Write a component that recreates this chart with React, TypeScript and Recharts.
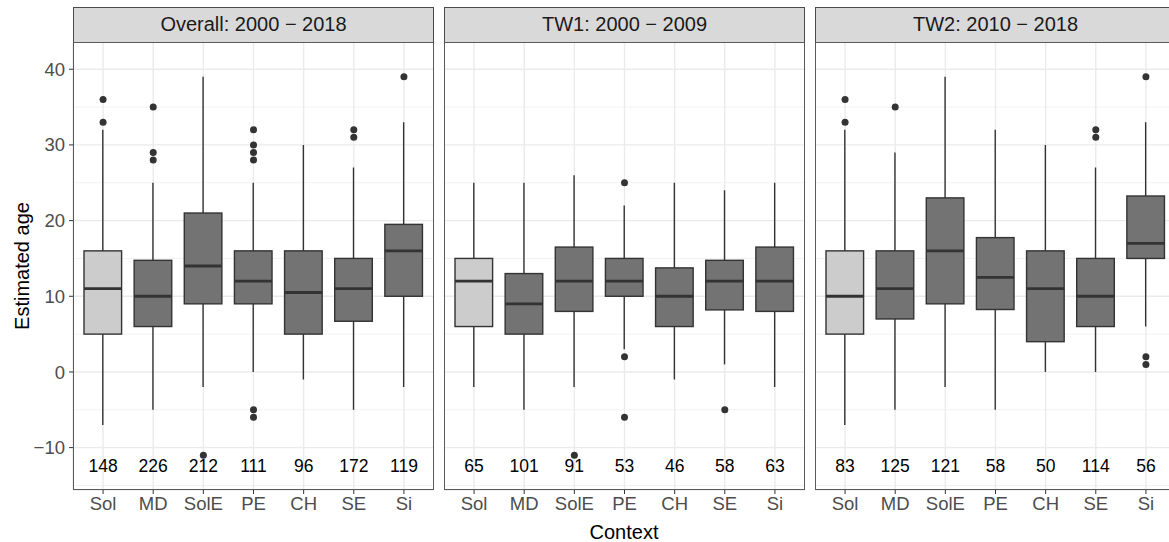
import { ComposedChart, Bar, Scatter, XAxis, YAxis, CartesianGrid } from "recharts";

const contexts = ["Sol", "MD", "SolE", "PE", "CH", "SE", "Si"];

// Overall: 2000 - 2018
const overallLow = [-7, -5, -2, 0, -1, -5, -2];
const overallQ1 = [5, 6, 9, 9, 5, 6.7, 10];
const overallMed = [11, 10, 14, 12, 10.5, 11, 16];
const overallQ3 = [16, 14.75, 21, 16, 16, 15, 19.5];
const overallHigh = [32, 25, 39, 25, 30, 27, 33];
const overallOut = [[36, 33], [35, 29, 28], [-11], [32, 30, 29, 28, -5, -6], [], [32, 31], [39]];
const overallN = [148, 226, 212, 111, 96, 172, 119];

// TW1: 2000 - 2009
const tw1Low = [-2, -5, -2, 3, -1, 1, -2];
const tw1Q1 = [6, 5, 8, 10, 6, 8.2, 8];
const tw1Med = [12, 9, 12, 12, 10, 12, 12];
const tw1Q3 = [15, 13, 16.5, 15, 13.75, 14.75, 16.5];
const tw1High = [25, 25, 26, 22, 25, 24, 25];
const tw1Out = [[], [], [-11], [25, 2, -6], [], [-5], []];
const tw1N = [65, 101, 91, 53, 46, 58, 63];

// TW2: 2010 - 2018
const tw2Low = [-7, -5, -2, -5, 0, 0, 6];
const tw2Q1 = [5, 7, 9, 8.25, 4, 6, 15];
const tw2Med = [10, 11, 16, 12.5, 11, 10, 17];
const tw2Q3 = [16, 16, 23, 17.75, 16, 15, 23.25];
const tw2High = [32, 29, 39, 32, 30, 27, 33];
const tw2Out = [[36, 33], [35], [], [], [], [32, 31], [39, 2, 1]];
const tw2N = [83, 125, 121, 58, 50, 114, 56];

const majorTicks = [-10, 0, 10, 20, 30, 40];
const minorTicks = [-15, -5, 5, 15, 25, 35];
const COUNT_Y = -12.4;

const FONT = '"Liberation Sans", Arial, Helvetica, sans-serif';

type Row = { [key: string]: any };

const buildRows = (
  low: number[], q1: number[], med: number[], q3: number[], high: number[],
  out: number[][], n: number[]
): Row[] =>
  contexts.map((ctx, i) => {
    const row: Row = { ctx, low: low[i], q1: q1[i], med: med[i], q3: q3[i], high: high[i], n: n[i] };
    out[i].forEach((v, j) => {
      row[`o${j}`] = v;
    });
    return row;
  });

const panels = [
  { title: "Overall: 2000 \u2212 2018", rows: buildRows(overallLow, overallQ1, overallMed, overallQ3, overallHigh, overallOut, overallN), slots: 6 },
  { title: "TW1: 2000 \u2212 2009", rows: buildRows(tw1Low, tw1Q1, tw1Med, tw1Q3, tw1High, tw1Out, tw1N), slots: 3 },
  { title: "TW2: 2010 \u2212 2018", rows: buildRows(tw2Low, tw2Q1, tw2Med, tw2Q3, tw2High, tw2Out, tw2N), slots: 3 },
];

// whisker + box + median, positioned inside the [low, high] range bar
const BoxShape = (props: any) => {
  const { x, y, width, height, payload } = props;
  const { low, q1, med, q3, high } = payload;
  const top = Math.min(y, y + height);
  const h = Math.abs(height);
  const toY = (v: number) => top + (h * (high - v)) / (high - low);
  const cx = x + width / 2;
  const fill = payload.ctx === "Sol" ? "#CCCCCC" : "#737373";
  return (
    <g>
      <line x1={cx} x2={cx} y1={top} y2={top + h} stroke="#333333" strokeWidth={1.4} />
      <rect x={x} y={toY(q3)} width={width} height={toY(q1) - toY(q3)} fill={fill} stroke="#333333" strokeWidth={1.4} />
      <line x1={x} x2={x + width} y1={toY(med)} y2={toY(med)} stroke="#333333" strokeWidth={2.8} />
    </g>
  );
};

const OutlierDot = (props: any) => {
  if (props.cy == null || Number.isNaN(props.cy)) return <g />;
  return <circle cx={props.cx} cy={props.cy} r={3.5} fill="#333333" />;
};

const CountLabel = (props: any) => (
  <text
    x={props.cx}
    y={props.cy}
    textAnchor="middle"
    dominantBaseline="central"
    fontSize={17.5}
    fontFamily={FONT}
    fill="#000000"
  >
    {props.payload.n}
  </text>
);

const minus = (v: number) => String(v).replace("-", "\u2212");

const PLOT_TOP = 42;
const PLOT_H = 448;
const PANEL_W = 361;
const panelLefts = [73, 444, 815];

const Panel = ({ index }: { index: number }) => {
  const p = panels[index];
  const showY = index === 0;
  const left = showY ? 0 : panelLefts[index];
  const width = showY ? panelLefts[0] + PANEL_W : PANEL_W;
  return (
    <div style={{ position: "absolute", left, top: 0 }}>
      <ComposedChart width={width} height={542} data={p.rows} margin={{ top: PLOT_TOP, right: 0, bottom: 0, left: 0 }}>
        <CartesianGrid horizontalValues={minorTicks} vertical={false} stroke="#F2F2F2" strokeWidth={1} />
        <CartesianGrid stroke="#EBEBEB" strokeWidth={1.4} />
        <XAxis
          dataKey="ctx"
          height={52}
          padding={{ left: 5, right: 5 }}
          axisLine={false}
          tickLine={{ stroke: "#333333" }}
          tickSize={4}
          tickMargin={3}
          interval={0}
          tick={{ fontSize: 18.5, fill: "#4D4D4D", fontFamily: FONT }}
        />
        <YAxis
          type="number"
          domain={[-15.6, 43.6]}
          ticks={majorTicks}
          allowDataOverflow
          hide={!showY}
          width={73}
          axisLine={false}
          tickLine={{ stroke: "#333333" }}
          tickSize={4}
          tickMargin={4}
          tickFormatter={minus}
          tick={{ fontSize: 18.5, fill: "#4D4D4D", fontFamily: FONT }}
        />
        <Bar dataKey={(d: Row) => [d.low, d.high]} barSize={37.6} shape={BoxShape} isAnimationActive={false} />
        {Array.from({ length: p.slots }, (_, j) => (
          <Scatter key={j} dataKey={`o${j}`} shape={OutlierDot} isAnimationActive={false} />
        ))}
        <Scatter dataKey={() => COUNT_Y} shape={CountLabel} isAnimationActive={false} />
      </ComposedChart>
    </div>
  );
};

export default function App() {
  return (
    <div
      style={{
        position: "absolute",
        left: 0,
        top: 0,
        width: 1169,
        height: 542,
        overflow: "hidden",
        background: "#FFFFFF",
        fontFamily: FONT,
      }}
    >
      {panels.map((p, i) => (
        <Panel key={p.title} index={i} />
      ))}
      {panels.map((p, i) => (
        <div key={`frame-${i}`}>
          <div
            style={{
              position: "absolute",
              left: panelLefts[i],
              top: 7,
              width: PANEL_W,
              height: PLOT_TOP - 7 + 1,
              boxSizing: "border-box",
              border: "1px solid #4A4A4A",
              background: "#D9D9D9",
              color: "#1A1A1A",
              fontSize: 20,
              lineHeight: `${PLOT_TOP - 9}px`,
              textAlign: "center",
            }}
          >
            {p.title}
          </div>
          <div
            style={{
              position: "absolute",
              left: panelLefts[i],
              top: PLOT_TOP,
              width: PANEL_W,
              height: PLOT_H,
              boxSizing: "border-box",
              border: "1px solid #5A5A5A",
              pointerEvents: "none",
            }}
          />
        </div>
      ))}
      <div
        style={{
          position: "absolute",
          left: 22,
          top: PLOT_TOP + PLOT_H / 2,
          transform: "translate(-50%, -50%) rotate(-90deg)",
          fontSize: 20,
          color: "#000000",
          whiteSpace: "nowrap",
        }}
      >
        Estimated age
      </div>
      <div
        style={{
          position: "absolute",
          left: 624,
          top: 532,
          transform: "translate(-50%, -50%)",
          fontSize: 20,
          color: "#000000",
          whiteSpace: "nowrap",
        }}
      >
        Context
      </div>
    </div>
  );
}
